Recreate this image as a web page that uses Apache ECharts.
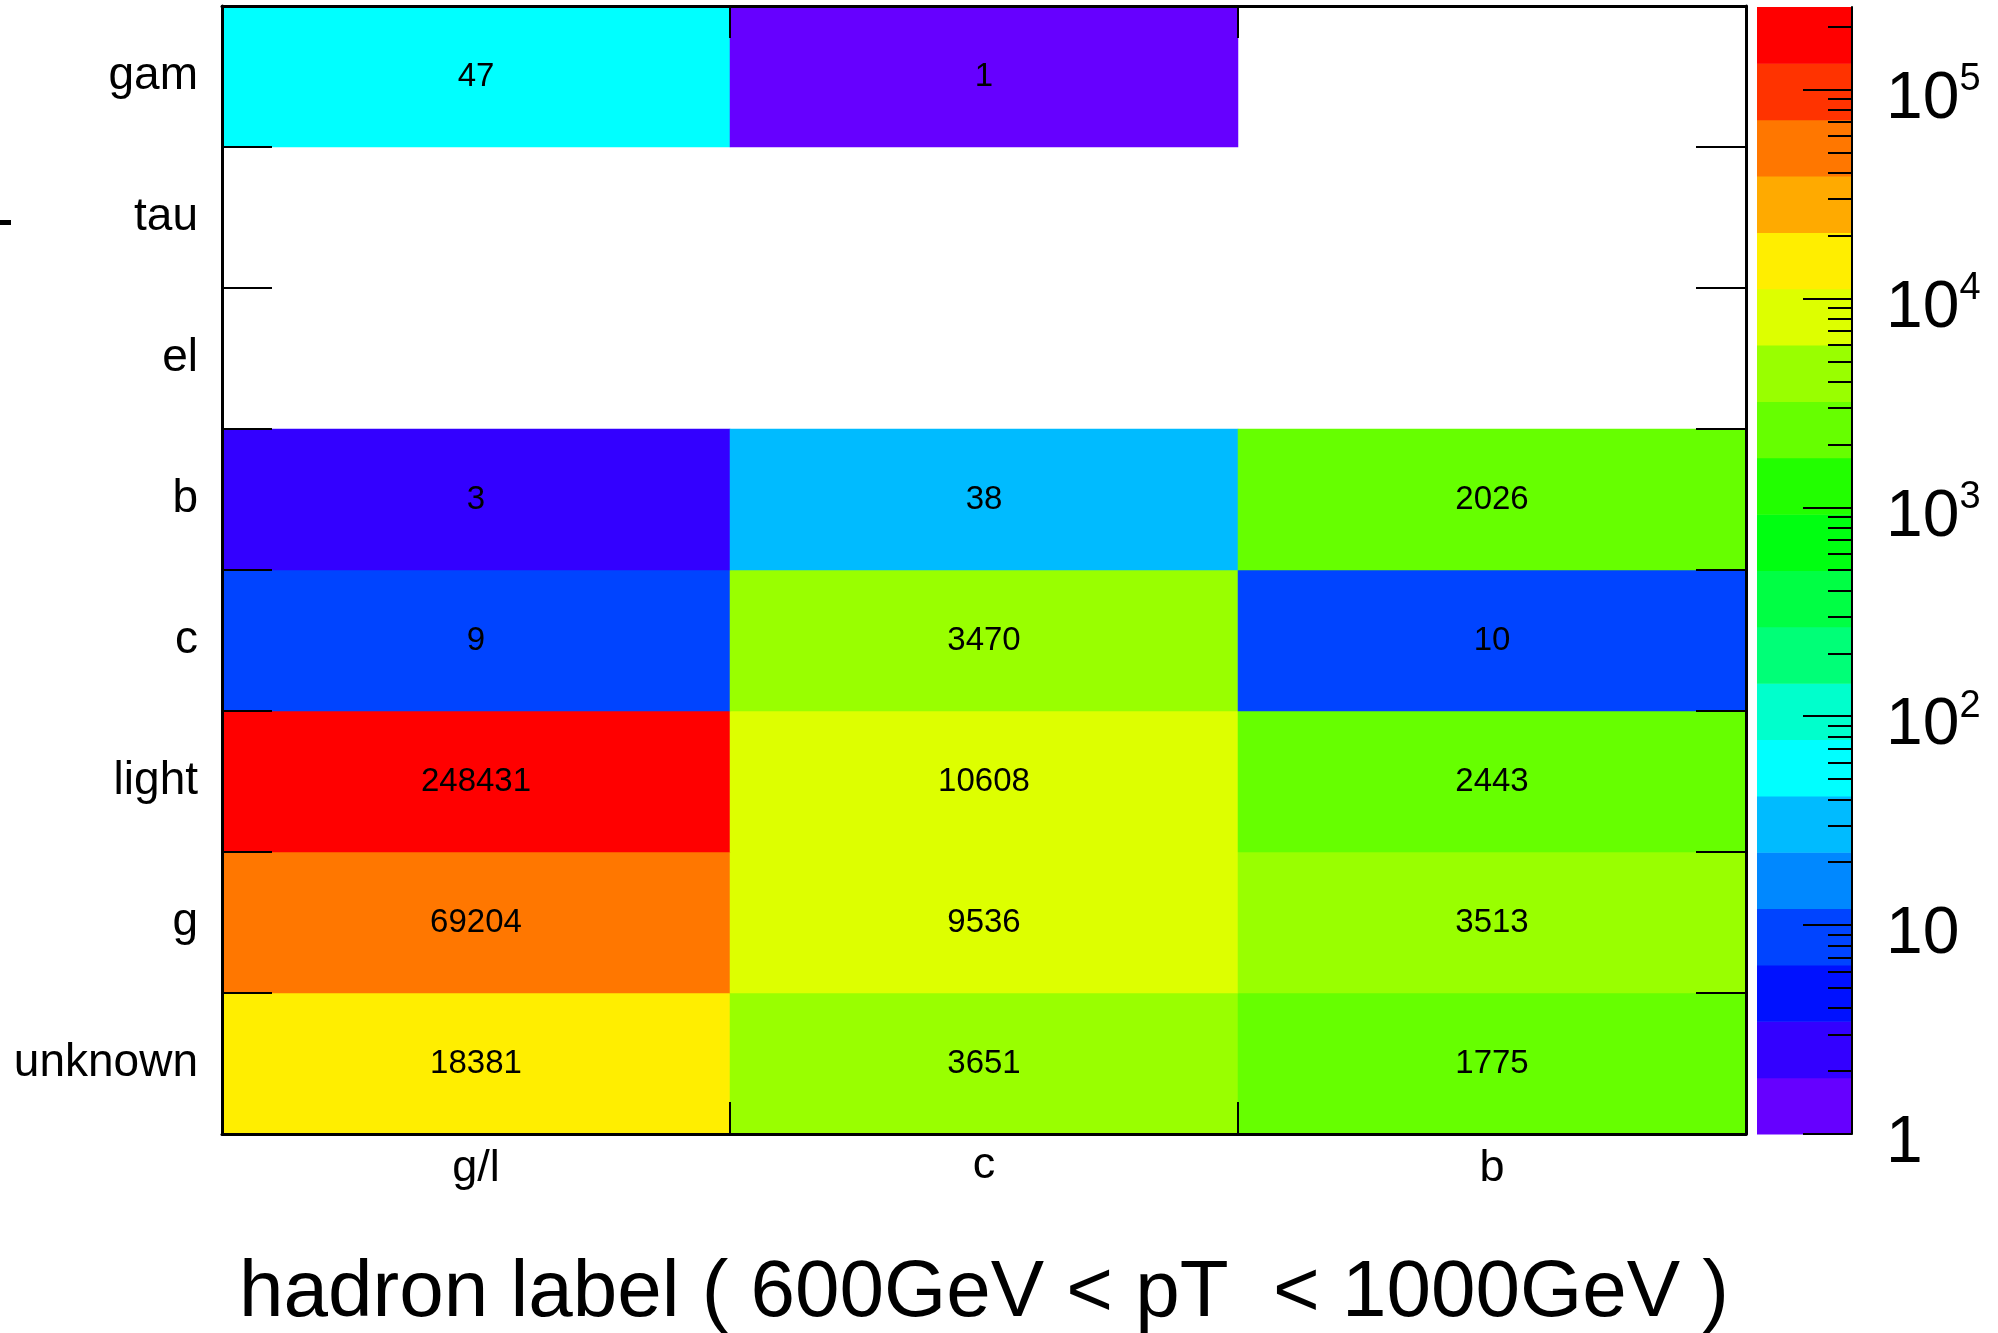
<!DOCTYPE html>
<html>
<head>
<meta charset="utf-8">
<script src="https://cdn.jsdelivr.net/npm/echarts@6/dist/echarts.min.js"></script>
<style>
html, body { margin: 0; padding: 0; background: #fff; }
#main { width: 1998px; height: 1333px; }
</style>
</head>
<body>
<div id="main"></div>
<script>
var xLabels = ['g/l', 'c', 'b'];
var yLabels = ['unknown', 'g', 'light', 'c', 'b', 'el', 'tau', 'gam'];

// bin contents per row, bottom to top (null = empty bin)
var rowUnknown = [18381, 3651, 1775];
var rowG = [69204, 9536, 3513];
var rowLight = [248431, 10608, 2443];
var rowC = [9, 3470, 10];
var rowB = [3, 38, 2026];
var rowEl = [null, null, null];
var rowTau = [null, null, null];
var rowGam = [47, 1, null];

var zMin = 1;
var zMax = 248431;

// 20 colour levels, lowest first
var paletteColors = [
    '#6600ff', '#3300ff', '#0011ff', '#0044ff', '#0088ff', '#00bbff', '#00ffff',
    '#00ffcc', '#00ff77', '#00ff44', '#00ff11', '#22ff00', '#66ff00', '#99ff00',
    '#ddff00', '#ffee00', '#ffaa00', '#ff7700', '#ff3300', '#ff0000'
];

var cbTickLabels = ['1', '10', '10^2', '10^3', '10^4', '10^5'];

var rows = [rowUnknown, rowG, rowLight, rowC, rowB, rowEl, rowTau, rowGam];
var logMax = Math.log10(zMax) - Math.log10(zMin);
var step = logMax / paletteColors.length;

var cells = [];
for (var j = 0; j < rows.length; j++) {
    for (var i = 0; i < xLabels.length; i++) {
        var v = rows[j][i];
        if (v !== null)
            cells.push([i, j, v, Math.log10(v / zMin)]);
    }
}

var pieces = [];
var bands = [];
for (var k = 0; k < paletteColors.length; k++) {
    var piece = {gte: k * step, color: paletteColors[k]};
    if (k == paletteColors.length - 1)
        piece.lte = logMax + 1e-9;
    else
        piece.lt = (k + 1) * step;
    pieces.push(piece);
    bands.push([k * step, (k + 1) * step, k]);
}

// major ticks at the decades, minor at 2..9 of each decade
var cbMajor = [];
var cbMinor = [];
for (var d = 0; d < cbTickLabels.length; d++) {
    cbMajor.push(d);
    for (var m = 2; m <= 9; m++) {
        var lv = d + Math.log10(m);
        if (lv <= logMax)
            cbMinor.push(lv);
    }
}

// the 'c' label sits a bit higher in the original (no ascender)
var xAxisData = xLabels.map(function (s) {
    if (s == 'c')
        return {value: s, textStyle: {lineHeight: 40}};
    return s;
});

var black = '#000';
var myChart = echarts.init(document.getElementById('main'));

var gridCommon = {outerBoundsMode: 'none', containLabel: false};
var option = {
    animation: false,
    textStyle: {fontFamily: 'Liberation Sans, Arial, sans-serif', color: black},
    grid: [
        Object.assign({left: 222, top: 6, width: 1524, height: 1128}, gridCommon),
        Object.assign({left: 1757, top: 7, width: 95, height: 1127}, gridCommon),
        Object.assign({left: 1757, top: 7, width: 95, height: 1127}, gridCommon)
    ],
    graphic: [
        {type: 'rect', left: 0, top: 220, shape: {width: 11, height: 5}, style: {fill: black}}
    ],
    visualMap: {
        type: 'piecewise',
        show: false,
        dimension: 3,
        seriesIndex: 0,
        pieces: pieces
    },
    xAxis: [
        {
            gridIndex: 0, type: 'category', data: xAxisData, position: 'bottom', z: 5,
            axisLine: {show: true, lineStyle: {color: black, width: 3}},
            axisTick: {show: true, inside: true, length: 32, interval: 0, lineStyle: {color: black, width: 2}},
            axisLabel: {fontSize: 45, color: black, margin: 12, interval: 0},
            splitLine: {show: false},
            name: 'hadron label ( 600GeV < pT  < 1000GeV )',
            nameLocation: 'middle',
            nameGap: 120,
            nameTextStyle: {fontSize: 80, color: black}
        },
        {
            gridIndex: 0, type: 'category', data: xLabels, position: 'top', z: 5,
            axisLine: {show: true, lineStyle: {color: black, width: 3}},
            axisTick: {show: true, inside: true, length: 32, interval: 0, lineStyle: {color: black, width: 2}},
            axisLabel: {show: false},
            splitLine: {show: false}
        },
        {gridIndex: 1, type: 'value', min: 0, max: 1, show: false},
        {gridIndex: 2, type: 'value', min: 0, max: 1, show: false}
    ],
    yAxis: [
        {
            gridIndex: 0, type: 'category', data: yLabels, position: 'left', z: 5,
            axisLine: {show: true, lineStyle: {color: black, width: 3}},
            axisTick: {show: true, inside: true, length: 50, interval: 0, lineStyle: {color: black, width: 2}},
            axisLabel: {fontSize: 46, color: black, margin: 24, interval: 0},
            splitLine: {show: false}
        },
        {
            gridIndex: 0, type: 'category', data: yLabels, position: 'right', z: 5,
            axisLine: {show: true, lineStyle: {color: black, width: 3}},
            axisTick: {show: true, inside: true, length: 50, interval: 0, lineStyle: {color: black, width: 2}},
            axisLabel: {show: false},
            splitLine: {show: false}
        },
        {
            gridIndex: 1, type: 'value', min: 0, max: logMax, position: 'right', z: 5,
            axisLine: {show: true, onZero: false, lineStyle: {color: black, width: 2}},
            axisTick: {show: true, inside: true, length: 49, customValues: cbMajor,
                       lineStyle: {color: black, width: 2}},
            axisLabel: {
                customValues: cbMajor,
                margin: 34,
                padding: [20, 0, 0, 0],
                formatter: function (val) {
                    var t = cbTickLabels[Math.round(val)].split('^');
                    if (t.length == 1)
                        return '{b|' + t[0] + '}';
                    return '{b|' + t[0] + '}{e|' + t[1] + '}';
                },
                rich: {
                    b: {fontSize: 66, color: black, lineHeight: 70},
                    e: {fontSize: 38, color: black, lineHeight: 38, padding: [0, 0, 40, 0]}
                }
            },
            splitLine: {show: false}
        },
        {
            gridIndex: 2, type: 'value', min: 0, max: logMax, position: 'right', z: 5,
            axisLine: {show: false, onZero: false},
            axisTick: {show: true, inside: true, length: 24, customValues: cbMinor,
                       lineStyle: {color: black, width: 2}},
            axisLabel: {show: false},
            splitLine: {show: false}
        }
    ],
    series: [
        {
            type: 'heatmap',
            xAxisIndex: 0,
            yAxisIndex: 0,
            data: cells,
            label: {
                show: true,
                fontSize: 33,
                color: black,
                formatter: function (p) { return String(p.value[2]); }
            },
            itemStyle: {borderWidth: 0},
            emphasis: {disabled: true}
        },
        {
            type: 'custom',
            xAxisIndex: 2,
            yAxisIndex: 2,
            data: bands,
            renderItem: function (params, api) {
                var p0 = api.coord([0, api.value(0)]);
                var p1 = api.coord([1, api.value(1)]);
                return {
                    type: 'rect',
                    shape: {x: p0[0], y: p1[1], width: p1[0] - p0[0], height: p0[1] - p1[1] + 0.5},
                    style: {fill: paletteColors[api.value(2)]}
                };
            }
        }
    ]
};

myChart.setOption(option);
</script>
</body>
</html>
